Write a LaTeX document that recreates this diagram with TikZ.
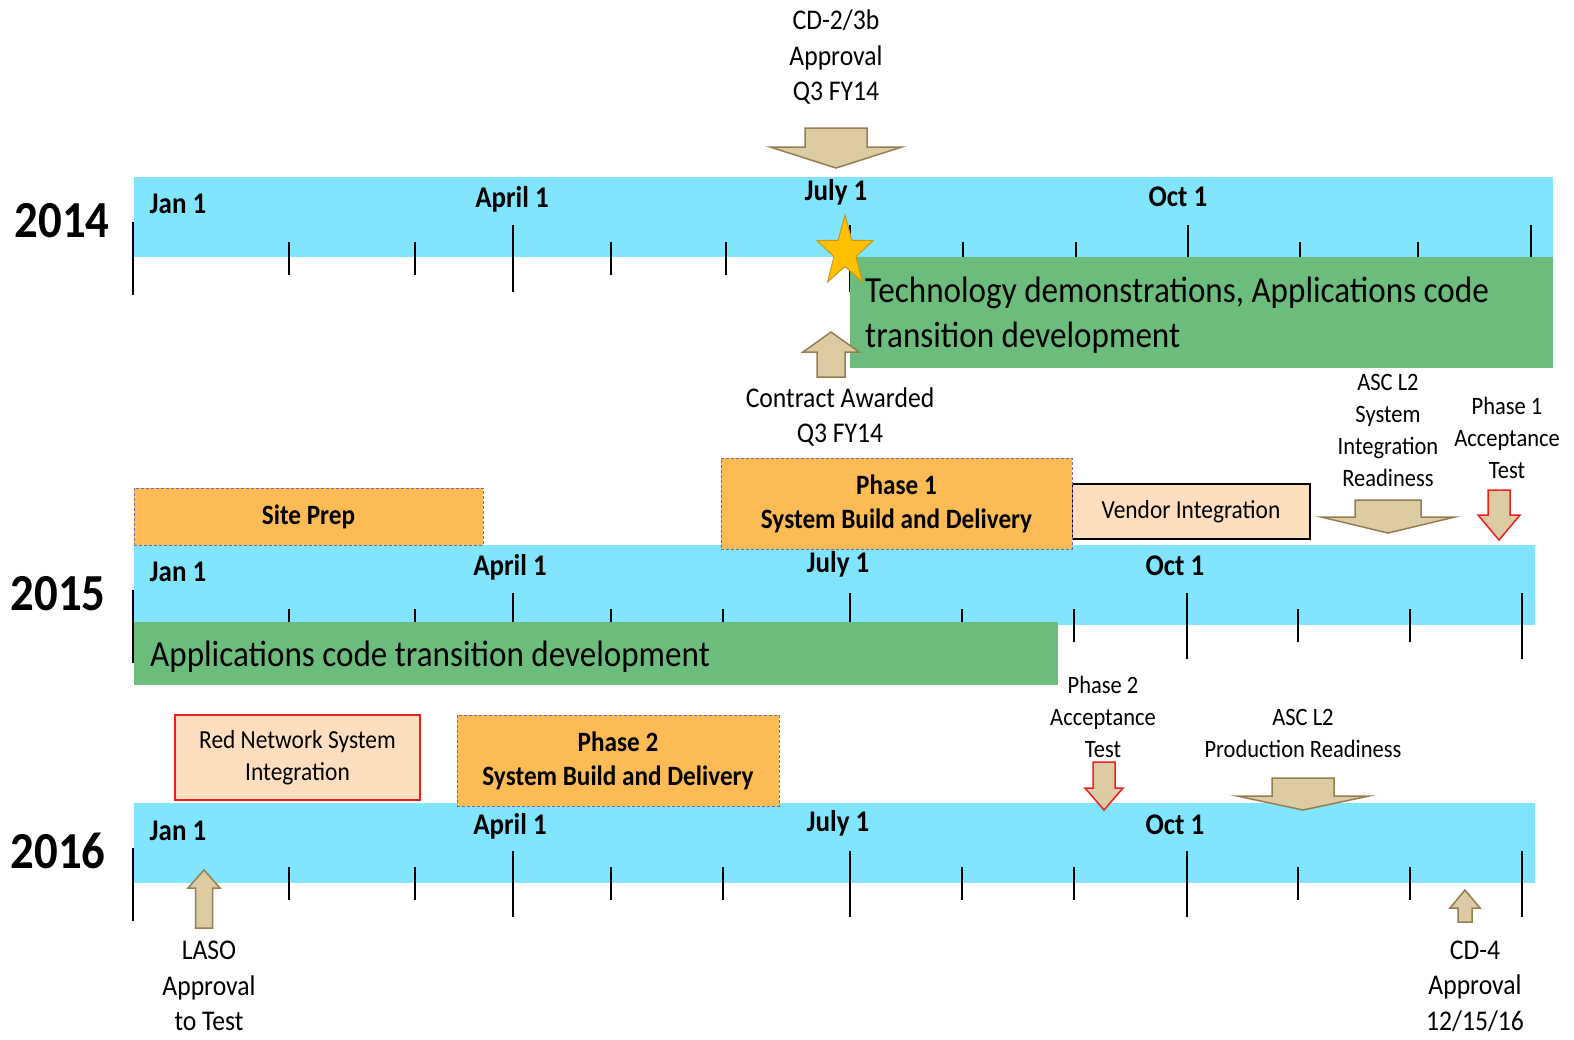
\documentclass[tikz,border=0pt]{standalone}
\usepackage{fontspec}
\setmainfont{Carlito}[FakeStretch=0.9]
\usetikzlibrary{shapes.geometric}
\definecolor{barblue}{RGB}{128,229,253}
\definecolor{bargreen}{RGB}{108,189,123}
\definecolor{boxorange}{RGB}{253,187,85}
\definecolor{boxpeach}{RGB}{253,223,192}
\definecolor{arrowtan}{RGB}{221,203,164}
\definecolor{arrowbrown}{RGB}{150,125,80}
\definecolor{dashpurple}{RGB}{128,100,162}
\definecolor{starfill}{RGB}{255,192,0}
\definecolor{stardraw}{RGB}{200,150,20}
\definecolor{redline}{RGB}{240,30,30}
\newcommand{\blkdn}[7]{\draw[#1] ({#2-#4},{#3-#7}) -- ({#2+#4},{#3-#7}) -- ({#2+#4},{#3-#6}) -- ({#2+#5},{#3-#6}) -- (#2,#3) -- ({#2-#5},{#3-#6}) -- ({#2-#4},{#3-#6}) -- cycle;}
\newcommand{\blkup}[7]{\draw[#1] ({#2-#4},{#3+#7}) -- ({#2+#4},{#3+#7}) -- ({#2+#4},{#3+#6}) -- ({#2+#5},{#3+#6}) -- (#2,#3) -- ({#2-#5},{#3+#6}) -- ({#2-#4},{#3+#6}) -- cycle;}
\tikzset{
 datelbl/.style={font=\bfseries\fontsize{30}{32}\selectfont, inner sep=0, anchor=base},
 yearlbl/.style={font=\bfseries\fontsize{52}{56}\selectfont, inner sep=0, anchor=base},
 smalllbl/.style={font=\fontsize{25}{32}\selectfont, align=center, inner sep=0},
 midlbl/.style={font=\fontsize{28.5}{35.5}\selectfont, align=center, inner sep=0},
 phasebox/.style={fill=boxorange, draw=dashpurple, dash pattern=on 3pt off 2pt, line width=1pt, inner sep=0, align=center, font=\bfseries\fontsize{28}{34}\selectfont},
 peachbox/.style={fill=boxpeach, line width=1.6pt, inner sep=0, align=center, font=\fontsize{26}{32}\selectfont},
 greenbar/.style={fill=bargreen, inner sep=0},
 greentext/.style={font=\fontsize{36.8}{45}\selectfont, inner sep=0, anchor=base west},
 tanarrow/.style={fill=arrowtan, draw=arrowbrown, line width=1.5pt},
 redarrow/.style={fill=arrowtan, draw=redline, line width=1.5pt},
 tickline/.style={line width=1.3pt},
}
\begin{document}
\begin{tikzpicture}[x=1pt,y=-1pt]
\useasboundingbox (0,0) rectangle (1574,1039);
\fill[white] (0,0) rectangle (1574,1039);
% blue bars
\fill[barblue] (134,177) rectangle (1553,257);
\fill[barblue] (134,545) rectangle (1535,625);
\fill[barblue] (134,803) rectangle (1535,883);
% ticks 2014
\draw[tickline] (133,222) -- (133,295);
\foreach \x in {289,415,611,726,963,1076,1300,1418} \draw[tickline] (\x,242) -- (\x,275);
\foreach \x in {513,850,1188,1531} \draw[tickline] (\x,225) -- (\x,292);
% ticks 2015 and 2016
\foreach \T/\B in {545/625,803/883}{
  \draw[tickline] (133,\T+45) -- (133,\B+38);
  \foreach \x in {289,415,611,723,962,1074,1298,1410} \draw[tickline] (\x,\T+64) -- (\x,\B+17);
  \foreach \x in {513,850,1187,1522} \draw[tickline] (\x,\T+48) -- (\x,\B+34);
}
% green bars
\node[greenbar, minimum width=703pt, minimum height=111pt] (g14) at (1201.5,312.5) {};
\node[greenbar, minimum width=924pt, minimum height=63pt] (g15) at (596,653.5) {};
\node[greentext] (g14a) at (865,302) {Technology demonstrations, Applications code};
\node[greentext] (g14b) at (865,347) {transition development};
\node[greentext] (g15a) at (150,666) {Applications code transition development};
% year labels
\node[yearlbl] (y14) at (62,237) {2014};
\node[yearlbl] (y15) at (58,610) {2015};
\node[yearlbl] (y16) at (58,868) {2016};
% date labels
\node[datelbl] (jan14) at (178,213) {Jan 1};
\node[datelbl] (apr14) at (512,207) {April 1};
\node[datelbl] (jul14) at (836,200) {July 1};
\node[datelbl] (oct14) at (1178,206) {Oct 1};
\node[datelbl] (jan15) at (178,581) {Jan 1};
\node[datelbl] (apr15) at (510,575) {April 1};
\node[datelbl] (jul15) at (838,572) {July 1};
\node[datelbl] (oct15) at (1175,575) {Oct 1};
\node[datelbl] (jan16) at (178,840) {Jan 1};
\node[datelbl] (apr16) at (510,834) {April 1};
\node[datelbl] (jul16) at (838,831) {July 1};
\node[datelbl] (oct16) at (1175,834) {Oct 1};
% boxes 2015
\node[phasebox, minimum width=349pt, minimum height=57pt] (site) at (308.5,516.5) {Site Prep};
\node[peachbox, draw=black, minimum width=238pt, minimum height=55pt] (vendor) at (1191,511.5) {Vendor Integration};
\node[phasebox, minimum width=351pt, minimum height=91pt] (ph1) at (896.5,503.5) {Phase 1\\System Build and Delivery};
% boxes 2016
\node[peachbox, draw=redline, minimum width=245pt, minimum height=85pt] (rednet) at (297.5,757.5) {Red Network System\\Integration};
\node[phasebox, minimum width=322pt, minimum height=91pt] (ph2) at (618,760.5) {Phase 2\\System Build and Delivery};
% star
\begin{scope}[shift={(845,252)}, xscale=0.8, yscale=-1]
\draw[fill=starfill, draw=stardraw, line width=1pt] (90:37) -- (126:14.5) -- (162:37) -- (198:14.5) -- (234:37) -- (270:14.5) -- (306:37) -- (342:14.5) -- (18:37) -- (54:14.5) -- cycle;
\end{scope}
% block arrows
\blkdn{tanarrow}{836}{168}{31}{66}{21}{40}
\blkup{tanarrow}{831}{332}{14}{28}{20}{45}
\blkdn{tanarrow}{1388}{533}{33}{67}{16}{33}
\blkdn{redarrow}{1499}{540}{11}{21}{25}{50}
\blkdn{redarrow}{1104}{810}{11}{19}{22}{48}
\blkdn{tanarrow}{1303}{810}{31}{66}{14}{32}
\blkup{tanarrow}{204}{870}{8.5}{16}{18}{58}
\blkup{tanarrow}{1465}{890}{7}{15}{18}{32}
% labels
\node[midlbl] (cd2) at (836,57) {CD-2/3b\\Approval\\Q3 FY14};
\node[midlbl] (contract) at (840,417) {Contract Awarded\\Q3 FY14};
\node[smalllbl] (ascsir) at (1388,430) {ASC L2\\System\\Integration\\Readiness};
\node[smalllbl] (p1at) at (1507,438) {Phase 1\\Acceptance\\Test};
\node[smalllbl] (p2at) at (1103,717) {Phase 2\\Acceptance\\Test};
\node[smalllbl] (ascpr) at (1303,733) {ASC L2\\Production Readiness};
\node[midlbl] (laso) at (209,986) {LASO\\Approval\\to Test};
\node[midlbl] (cd4) at (1475,986) {CD-4\\Approval\\12/15/16};
\end{tikzpicture}
\end{document}
